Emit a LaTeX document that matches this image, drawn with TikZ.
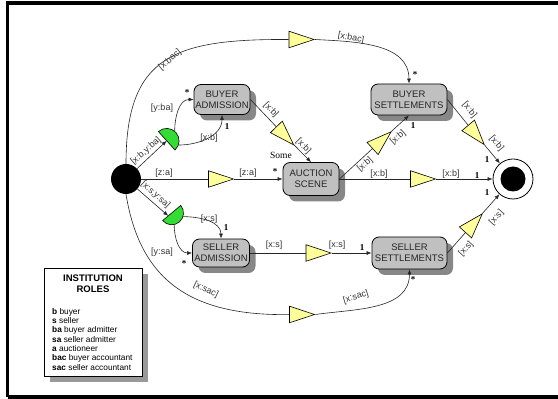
\documentclass[tikz,border=0pt]{standalone}
\usepackage{fontspec}
\setmainfont{Liberation Sans}
\newfontfamily\cardfont{Liberation Serif}
\usetikzlibrary{shapes.geometric,arrows.meta,shadows}
\definecolor{triyellow}{RGB}{255,255,153}
\definecolor{gategreen}{RGB}{51,221,51}
\definecolor{boxgray}{RGB}{192,192,192}
\definecolor{shadowgray}{RGB}{135,135,135}
\tikzset{
  box/.style={draw=black, line width=0.8pt, fill=boxgray, rounded corners=7pt, align=center,
    inner sep=0pt, font=\fontsize{9.5}{10.7}\selectfont, text=black!85,
    drop shadow={shadow xshift=6pt, shadow yshift=-6pt, fill=shadowgray, opacity=1}},
  tri/.style={draw=black, line width=0.6pt, fill=triyellow, isosceles triangle,
    isosceles triangle stretches, minimum width=16.5pt, minimum height=25pt, inner sep=0pt},
  conn/.style={draw=black!85, line width=0.6pt},
  arr/.style={conn, -{Latex[length=5pt,width=4pt]}},
  lab/.style={font=\fontsize{9}{10}\selectfont, text=black!80, inner sep=0pt},
  card/.style={font=\cardfont\bfseries\fontsize{9}{10}\selectfont, inner sep=0pt},
  gate/.style={draw=black, line width=0.6pt, fill=gategreen},
  legitem/.style={anchor=west, inner sep=0pt, font=\fontsize{8.3}{9}\selectfont},
}
\begin{document}
\begin{tikzpicture}[x=1pt,y=1pt]
\useasboundingbox (0,0) rectangle (558,399);
% frame
\draw[line width=3.2pt] (7.5,2) -- (7.5,396) -- (570,396);
\draw[line width=3.2pt] (7.5,2) -- (570,2);

% nodes
\node[circle, fill=black, minimum size=30pt, inner sep=0pt] (start) at (126,220) {};
\node[circle, draw=black, line width=0.8pt, fill=white, minimum size=40pt, inner sep=0pt] (end) at (513,220) {};
\node[circle, fill=black, minimum size=25pt, inner sep=0pt] (endin) at (end) {};

\node[box, minimum width=56pt, minimum height=30pt] (BA) at (222,299.5) {BUYER\\ADMISSION};
\node[box, minimum width=56pt, minimum height=33pt] (AS) at (311,220) {AUCTION\\SCENE};
\node[box, minimum width=76pt, minimum height=31pt] (BS) at (409,299.5) {BUYER\\SETTLEMENTS};
\node[box, minimum width=57pt, minimum height=28pt] (SA) at (221,146) {SELLER\\ADMISSION};
\node[box, minimum width=75pt, minimum height=32pt] (SS) at (409.5,146) {SELLER\\SETTLEMENTS};

\node[tri] (tTop) at (295,359.5) {};
\node[tri] (t1) at (214.5,220) {};
\node[tri] (t2) at (416.5,220) {};
\node[tri] (tBot) at (295.5,84.5) {};
\node[tri] (tS) at (312,146) {};
\node[tri, rotate=-46] (tBA) at (280.5,267.8) {};
\node[tri, rotate=42] (tAS) at (377,254.5) {};
\node[tri, rotate=-50] (tBS) at (472,269) {};
\node[tri, rotate=48] (tSS) at (469.5,171) {};

% gates
\coordinate (g1) at (166.7,258.2);
\coordinate (g2) at (171.7,186);
\coordinate (g2in) at ([shift={(-140:4.5)}]g2);
\draw[gate] (g1) ++(132:12.4) arc[start angle=132, end angle=-48, radius=12.4] -- cycle;
\draw[gate] (g2) ++(40:11.8) arc[start angle=40, end angle=-140, radius=11.8] -- cycle;

% connectors
\draw[arr] (start) -- (g1);
\draw[arr] (start) -- (g2in);
\draw[arr] ([shift={(50:12.4)}]g1) to[out=90,in=180] (BA.west);
\draw[arr] ([shift={(-20:12.4)}]g1) to[out=0,in=-90] (BA.south);
\draw[arr] ([shift={(-18:11.8)}]g2) to[out=0,in=90] (SA.north);
\draw[arr] ([shift={(-78:11.8)}]g2) to[out=-90,in=180] (SA.west);

\draw[conn] (start) -- (t1);
\draw[arr] (t1) -- (AS);
\draw[conn] (AS) -- (t2);
\draw[arr] (t2) -- (end);

\draw[conn] (BA.east) -- (tBA);
\draw[arr] (tBA) -- (AS.north);
\draw[conn] (AS.east) -- (tAS);
\draw[arr] (tAS) -- (BS.south);
\draw[conn] (BS.east) -- (tBS);
\draw[arr] (tBS) -- (end);
\draw[conn] (SS.east) -- (tSS);
\draw[arr] (tSS) -- (end);
\draw[conn] (SA) -- (tS);
\draw[arr] (tS) -- (SS);

\draw[conn] (start.north) .. controls (126,344) and (175,360) .. (tTop);
\draw[arr] (tTop.apex) to[out=-3,in=90] (BS.north);
\draw[conn] (start.south) .. controls (140,119) and (190,83) .. (tBot);
\draw[arr] (tBot.apex) to[out=8,in=-90] (SS.south);

% labels
\node[lab, rotate=40] (l1) at (170,339) {[x:bac]};
\node[lab, rotate=-10] (l2) at (351,361) {[x:bac]};
\node[lab, rotate=41] (l3) at (146,248) {[x:b,y:ba]};
\node[lab] (l4) at (162,291) {[y:ba]};
\node[lab] (l5) at (209,261) {[x:b]};
\node[lab, rotate=-46] (l8) at (271,289) {[x:b]};
\node[lab, rotate=-46] (l9) at (303.5,252.5) {[x:b]};
\node[lab] (l11) at (164,226) {[z:a]};
\node[lab] (l12) at (248,226) {[z:a]};
\node[lab, rotate=-42] (l14) at (155.5,204) {[x:s,y:sa]};
\node[lab] (l15) at (209,180) {[x:s]};
\node[lab] (l17) at (162,147) {[y:sa]};
\node[lab] (l19) at (274,154) {[x:s]};
\node[lab] (l20) at (337,154) {[x:s]};
\node[lab] (l22) at (379,225) {[x:b]};
\node[lab] (l23) at (451,225) {[x:b]};
\node[lab, rotate=42] (l25) at (365,234.5) {[x:b]};
\node[lab, rotate=42] (l26) at (398,261.5) {[x:b]};
\node[lab, rotate=-50] (l29) at (469.5,289) {[x:b]};
\node[lab, rotate=-50] (l30) at (496.5,255.5) {[x:b]};
\node[lab, rotate=48] (l33) at (466,150) {[x:s]};
\node[lab, rotate=48] (l34) at (496.5,181.5) {[x:s]};
\node[lab, rotate=-25] (l35) at (206,109) {[x:sac]};
\node[lab, rotate=17] (l36) at (356,102) {[x:sac]};

% cardinalities
\node[card] (c1) at (187,306) {*};
\node[card] (c2) at (227,272) {1};
\node[font=\cardfont\fontsize{9.5}{10}\selectfont, inner sep=0pt] (some) at (281,243.5) {Some};
\node[card] (c3) at (275,227) {*};
\node[card] (c4) at (226,171) {1};
\node[card] (c5) at (184,135) {*};
\node[card] (c6) at (362,151) {1};
\node[card] (c7) at (477,223) {1};
\node[card] (c8) at (413,273) {1};
\node[card] (c9) at (415,324) {*};
\node[card] (c10) at (487,239) {1};
\node[card] (c11) at (487,206) {1};
\node[card] (c12) at (413,119) {*};

% legend
\node[draw=black, line width=0.6pt, fill=white, minimum width=98pt, minimum height=108pt, inner sep=0pt,
  drop shadow={shadow xshift=6pt, shadow yshift=-6pt, fill=black!40, opacity=1}] (legend) at (93,77) {};
\node[font=\bfseries\fontsize{9.5}{11}\selectfont, align=center, inner sep=0pt] (legtitle) at (93,115.5) {INSTITUTION\\ROLES};
\node[legitem] (lg1) at (52,87) {\textbf{b} buyer};
\node[legitem] (lg2) at (52,78) {\textbf{s} seller};
\node[legitem] (lg3) at (52,68.5) {\textbf{ba} buyer admitter};
\node[legitem] (lg4) at (52,59.5) {\textbf{sa} seller admitter};
\node[legitem] (lg5) at (52,50) {\textbf{a} auctioneer};
\node[legitem] (lg6) at (52,41) {\textbf{bac} buyer accountant};
\node[legitem] (lg7) at (52,31.5) {\textbf{sac} seller accountant};
\end{tikzpicture}
\end{document}
